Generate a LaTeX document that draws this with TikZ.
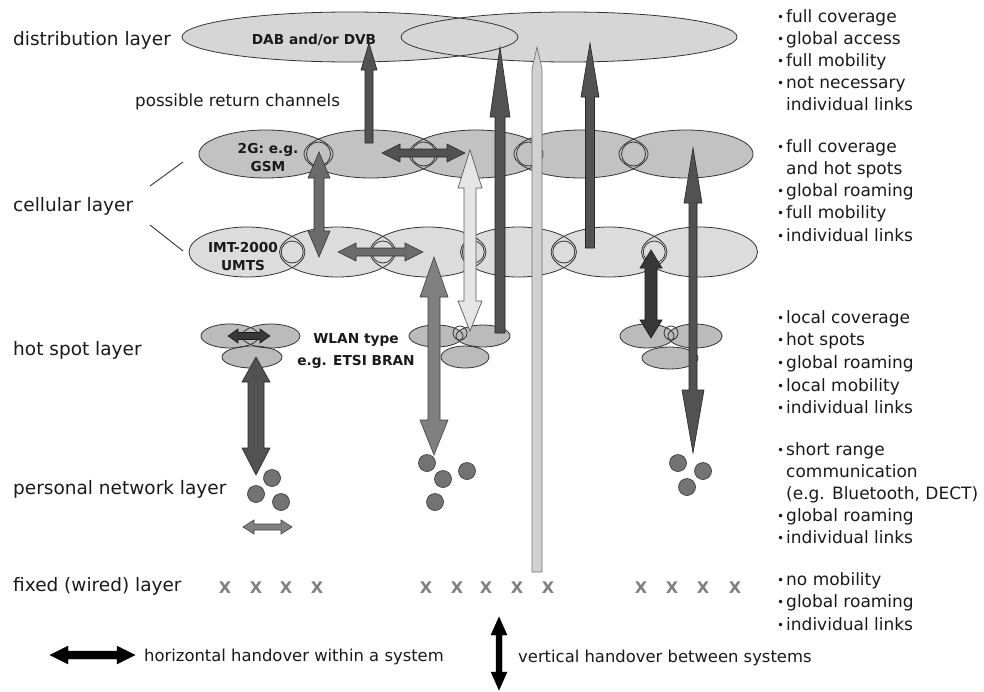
\documentclass[tikz,border=0pt]{standalone}
\usepackage{fontspec}
\setmainfont{DejaVu Sans}
\usetikzlibrary{shapes.geometric}
\definecolor{distfill}{HTML}{D6D6D6}
\definecolor{upfill}{HTML}{C2C2C2}
\definecolor{lowfill}{HTML}{DCDCDC}
\definecolor{hotfill}{HTML}{BBBBBB}
\definecolor{txt}{HTML}{1A1A1A}
% vertical arrow: x, ytop, ybot, shaft half, top head half, top head len, bottom head half, bottom head len, style
\newcommand{\varr}[9]{\filldraw[#9] (#1,#2) -- ({#1+#5},{#2+#6}) -- ({#1+#4},{#2+#6}) -- ({#1+#4},{#3-#8}) -- ({#1+#7},{#3-#8}) -- (#1,#3) -- ({#1-#7},{#3-#8}) -- ({#1-#4},{#3-#8}) -- ({#1-#4},{#2+#6}) -- ({#1-#5},{#2+#6}) -- cycle;}
% horizontal double arrow: y, xleft, xright, shaft half, head half, head len, style
\newcommand{\harr}[7]{\filldraw[#7] (#2,#1) -- ({#2+#6},{#1-#5}) -- ({#2+#6},{#1-#4}) -- ({#3-#6},{#1-#4}) -- ({#3-#6},{#1-#5}) -- (#3,#1) -- ({#3-#6},{#1+#5}) -- ({#3-#6},{#1+#4}) -- ({#2+#6},{#1+#4}) -- ({#2+#6},{#1+#5}) -- cycle;}
\newcommand{\bu}{\makebox[9pt][l]{\raisebox{0.8pt}{\fontsize{12}{12}\selectfont •}}}
\newcommand{\ind}{\hspace*{9pt}}
\begin{document}
\begin{tikzpicture}[x=1pt,y=-1pt,
  every node/.style={inner sep=0pt, text=txt},
  lay/.style={anchor=base west, font=\fontsize{18.5}{22}\selectfont},
  bul/.style={anchor=base west, font=\fontsize{17}{22}\selectfont},
  leg/.style={anchor=base west, font=\fontsize{16.4}{20}\selectfont},
  lab/.style={align=center, font=\fontsize{13.7}{18}\selectfont\bfseries},
  ell/.style={ellipse, draw=black!80, line width=0.8pt, inner sep=0pt},
  ring/.style={draw=black!80, line width=0.8pt},
  xm/.style={font=\fontsize{16}{16}\selectfont\bfseries, text=black!50},
  dot/.style={circle, fill=black!55, draw=black!80, line width=0.6pt, minimum size=17pt},
  darkarr/.style={fill=black!68, draw=black!85, line width=0.6pt},
  darkerarr/.style={fill=black!78, draw=black!90, line width=0.6pt},
  midarr/.style={fill=black!58, draw=black!80, line width=0.6pt},
  grayarr/.style={fill=black!50, draw=black!75, line width=0.6pt},
  lightarr/.style={fill=black!10, draw=black!65, line width=0.7pt},
  lightbar/.style={fill=black!18, draw=black!55, line width=0.7pt},
  legarr/.style={fill=black, draw=black, line width=0.4pt},
  cline/.style={draw=black!80, line width=0.9pt}
]
\useasboundingbox (0,0) rectangle (984,691);
\fill[white] (0,0) rectangle (984,691);

% ---------- left labels
\node[lay] (ldist) at (13,45) {distribution layer};
\node[lay, font=\fontsize{16.7}{20}\selectfont] (lret) at (135,106) {possible return channels};
\node[lay] (lcell) at (13,211) {cellular layer};
\node[lay] (lhot) at (13,355) {hot spot layer};
\node[lay] (lpers) at (13,494) {personal network layer};
\node[lay] (lfix) at (13,591) {fixed (wired) layer};

% ---------- distribution layer
\fill[distfill] (350,37) ellipse [x radius=168pt, y radius=25pt];
\fill[distfill] (569,37) ellipse [x radius=168pt, y radius=25pt];
\node[ell, minimum width=336pt, minimum height=50pt] (dab) at (350,37) {};
\node[ell, minimum width=336pt, minimum height=50pt] (dvb) at (569,37) {};
\node[lab] (dabtxt) at (314,40) {DAB and/or DVB};

% ---------- cellular layer, 2G row
\foreach \i in {0,...,4} \fill[upfill] ({266+105*\i},154) ellipse [x radius=67pt, y radius=24pt];
\foreach \i in {0,...,4} \node[ell, minimum width=134pt, minimum height=48pt] (g\i) at ({266+105*\i},154) {};
\foreach \i in {0,...,3} \draw[ring] ({318.5+105*\i},154) circle [radius=12pt];
\node[lab] (gsmtxt) at (268,158) {2G: e.g.\\GSM};

% ---------- cellular layer, IMT-2000 row
\foreach \i in {0,...,5} \fill[lowfill] ({247+90.5*\i},252) ellipse [x radius=58pt, y radius=25pt];
\foreach \i in {0,...,5} \node[ell, minimum width=116pt, minimum height=50pt] (u\i) at ({247+90.5*\i},252) {};
\foreach \i in {0,...,4} \draw[ring] ({292.25+90.5*\i},252) circle [radius=11pt];
\node[lab] (umtstxt) at (243,257) {IMT-2000\\UMTS};

% cellular label lines
\coordinate (cl1) at (150,186); \coordinate (cl2) at (183,162);
\coordinate (cl3) at (150,225); \coordinate (cl4) at (183,251);
\draw[cline] (cl1) -- (cl2);
\draw[cline] (cl3) -- (cl4);

% ---------- hot spot layer
\foreach \c/\rx/\ry in {{230,336}/29/12, {271,336}/29/12, {252,357}/30/11,
                         {436,336}/27/11, {483,336}/27/11, {465,357}/24/11,
                         {647,336}/27/12, {695,336}/27/12, {670,358}/28/11}
  \fill[hotfill] (\c) ellipse [x radius=\rx pt, y radius=\ry pt];
\foreach \c/\rx/\ry in {{230,336}/29/12, {271,336}/29/12, {252,357}/30/11,
                         {436,336}/27/11, {483,336}/27/11, {465,357}/24/11,
                         {647,336}/27/12, {695,336}/27/12, {670,358}/28/11}
  \draw[ring] (\c) ellipse [x radius=\rx pt, y radius=\ry pt];
\draw[ring] (460,333) circle [radius=7pt];
\draw[ring] (671,333) circle [radius=7pt];
\node[lab, font=\fontsize{13.7}{22}\selectfont\bfseries] (wlan) at (356,351) {WLAN type\\e.g. ETSI BRAN};

% ---------- personal network layer
\foreach \p [count=\k] in {{272,478},{256,494},{281,502},{427,463},{443,479},{467,471},{435,502},{678,463},{703,471},{687,487}}
  \node[dot] (pd\k) at (\p) {};

% ---------- fixed layer
\foreach \x in {225,256,286,317,426,457,486,517,548,641,672,703,735}
  \node[xm] (x\x) at (\x,588) {X};

% ---------- arrows
\varr{369}{43}{143}{4}{8}{27}{4}{0}{darkarr}
\varr{500}{47}{333}{5}{10}{70}{5}{0}{darkarr}
\varr{590}{43}{248}{4.5}{9}{54}{4.5}{0}{darkarr}
\varr{537}{47}{572}{5}{5}{22}{5}{0}{lightbar}
\varr{319}{152}{257}{5}{11}{26}{11}{26}{midarr}
\varr{470}{150}{331}{6}{12}{38}{12}{30}{lightarr}
\varr{434}{257}{455}{6}{14}{40}{14}{35}{grayarr}
\varr{651}{250}{338}{6}{11}{18}{11}{18}{darkerarr}
\varr{693}{148}{453}{4}{9}{55}{11}{63}{darkarr}
\varr{256}{357}{475}{8}{14}{25}{14}{27}{darkarr}
\harr{153}{382}{465}{4}{9}{18}{darkarr}
\harr{252}{338}{423}{4}{9}{18}{midarr}
\harr{527}{243}{292}{3}{7}{11}{grayarr}
\harr{336}{228}{270}{3.5}{7}{10}{darkerarr}

% ---------- right column
\foreach \y/\t in {17/\bu full coverage, 39/\bu global access, 61/\bu full mobility, 83/\bu not necessary, 105/\ind individual links,
                   147/\bu full coverage, 169/\ind and hot spots, 191/\bu global roaming, 213/\bu full mobility, 236/\bu individual links,
                   318/\bu local coverage, 340/\bu hot spots, 363/\bu global roaming, 386/\bu local mobility, 408/\bu individual links,
                   450/\bu short range, 472/\ind communication, 494/\ind (e.g. Bluetooth{,} DECT), 516/\bu global roaming, 538/\bu individual links,
                   580/\bu no mobility, 602/\bu global roaming, 625/\bu individual links}
  \node[bul] (r\y) at (777,{\y+5.5}) {\t};

% ---------- legend
\harr{655}{50}{135}{4}{9}{18}{legarr}
\node[leg] (lh) at (144,661) {horizontal handover within a system};
\varr{499}{617}{690}{3}{8}{18}{8}{18}{legarr}
\node[leg] (lv) at (518,662) {vertical handover between systems};
\end{tikzpicture}
\end{document}
